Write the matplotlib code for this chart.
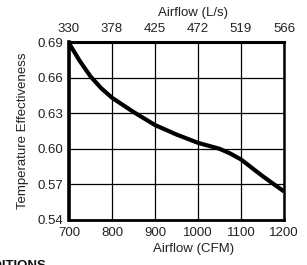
import numpy as np
import matplotlib
matplotlib.use("Agg")
import matplotlib.pyplot as plt

plt.rcParams['font.family'] = ['Liberation Sans', 'DejaVu Sans']

# curve
cfm = [700, 725, 750, 775, 800, 825, 850, 900, 950, 1000, 1050, 1075, 1100, 1150, 1200]
eff = [0.689, 0.674, 0.661, 0.651, 0.643, 0.637, 0.631, 0.620, 0.612, 0.605,
       0.600, 0.596, 0.591, 0.577, 0.564]

cfm_ticks = [700, 800, 900, 1000, 1100, 1200]
ls_labels = ['330', '378', '425', '472', '519', '566']
eff_ticks = [0.54, 0.57, 0.60, 0.63, 0.66, 0.69]

fig = plt.figure(figsize=(3.07, 2.65), dpi=100)
ax = fig.add_axes([0.2248, 0.170, 0.7003, 0.6715])

ax.plot(cfm, eff, color='black', lw=3.0, solid_capstyle='butt', solid_joinstyle='round')
ax.set_xlim(700, 1200)
ax.set_ylim(0.54, 0.69)
ax.set_xticks(cfm_ticks)
ax.set_yticks(eff_ticks)
ax.set_yticklabels(['%.2f' % v for v in eff_ticks])
ax.grid(True, color='black', lw=0.9)
ax.tick_params(length=0, labelsize=9.5, colors='#222222')
ax.tick_params(axis='x', pad=5)
ax.tick_params(axis='y', pad=4)

for side, w in [('left', 2.6), ('bottom', 2.0), ('top', 2.2), ('right', 1.8)]:
    ax.spines[side].set_linewidth(w)

ax.set_xlabel('Airflow (CFM)', fontsize=9.5, x=0.577, labelpad=3, color='#222222')
ax.set_ylabel('Temperature Effectiveness', fontsize=9.5, labelpad=6, color='#222222')

top = ax.twiny()
top.set_xlim(ax.get_xlim())
top.set_xticks(cfm_ticks)
top.set_xticklabels(ls_labels)
top.tick_params(length=0, labelsize=9.5, colors='#222222', pad=5)
top.set_xlabel('Airflow (L/s)', fontsize=9.5, x=0.577, labelpad=5, color='#222222')
for s in top.spines.values():
    s.set_visible(False)

fig.text(46 / 307, 5 / 265, 'CONDITIONS', ha='right', va='top', fontsize=9.5,
         fontweight='bold', color='#111111')

fig.savefig('out.png', dpi=100)
